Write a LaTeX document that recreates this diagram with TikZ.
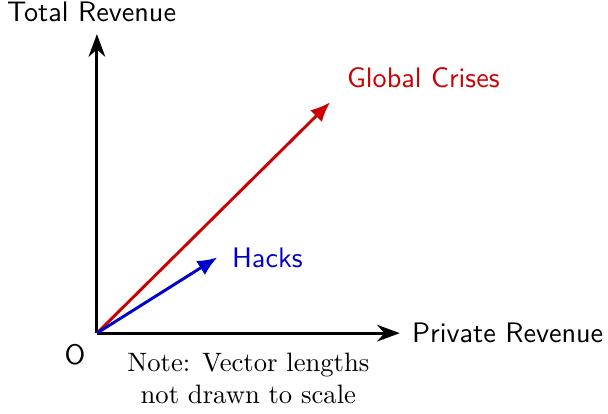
\documentclass[tikz,border=0pt]{standalone}
\usetikzlibrary{arrows.meta}
\usetikzlibrary{positioning}

\colorlet{crisisred}{red!80!black}
\colorlet{hackblue}{blue!80!black}

\begin{document}
\begin{tikzpicture}[axis/.style = {-{Stealth[length=3mm,width=2.2mm]},line width=1.1pt},
                    vec/.style = {-{Latex[length=2.6mm,width=2.2mm]},line width=1.1pt},
                    lab/.style = {font=\sffamily\fontsize{10.6}{12.5}\selectfont}]
                \useasboundingbox (-1.28,-1.06) rectangle (6.75,4.40);
                \coordinate (O) at (0,0);
                \coordinate (Y) at (0,3.95);
                \coordinate (X) at (4,0);
                \coordinate (GC) at (3.08,3.05);
                \coordinate (H) at (1.59,1.0);
                \draw[axis] (O) to (Y);
                \draw[axis] (O) to (X);
                \draw[vec,crisisred] (O) to (GC);
                \draw[vec,hackblue] (O) to (H);
                \node[lab,anchor=south] (TR) at (-0.07,3.99) {Total Revenue};
                \node[lab,right = 0.04 of X] (PR) {Private Revenue};
                \node[lab] (origin) at (-0.29,-0.29) {O};
                \node[lab,crisisred,anchor=west] (GCl) at (3.18,3.38) {Global Crises};
                \node[lab,hackblue,right = 0.07 of H] (Hl) {Hacks};
                \node[align=center] (note) at (2.0,-0.6) {Note: Vector lengths\\not drawn to scale};
            \end{tikzpicture}
\end{document}
